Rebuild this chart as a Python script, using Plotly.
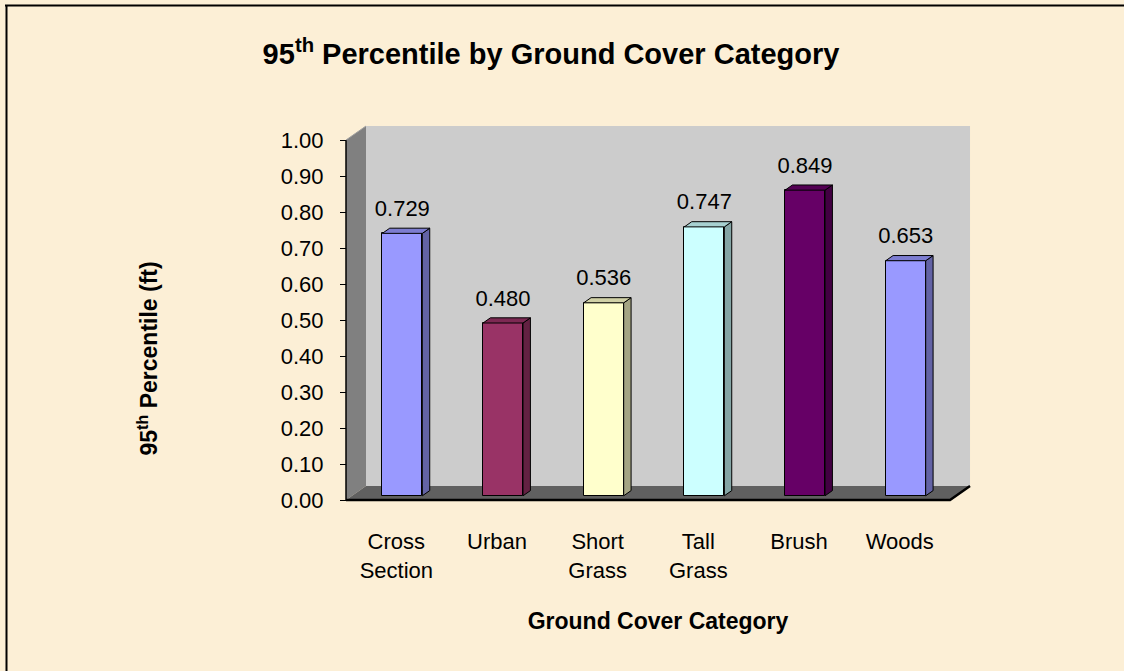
import plotly.graph_objects as go

# ---------------- data ----------------
categories = ["Cross<br>Section", "Urban", "Short<br>Grass", "Tall<br>Grass", "Brush", "Woods"]
values = [0.729, 0.480, 0.536, 0.747, 0.849, 0.653]
value_labels = ["0.729", "0.480", "0.536", "0.747", "0.849", "0.653"]
front_colors = ["#9999FF", "#993366", "#FFFFCC", "#CCFFFF", "#660066", "#9999FF"]
y_ticks = [0.0, 0.1, 0.2, 0.3, 0.4, 0.5, 0.6, 0.7, 0.8, 0.9, 1.0]

# ---------------- geometry (pixel layout) ----------------
W, H = 1124, 671
L, R, T, B = 342, 974, 122, 504        # plot area in px
X0PX, Y0PX = 346, 500                   # front axis origin (x=-0.5, y=0)
UX, UY = 100.67, 360.0                  # px per data unit
DX, DY = 20 / UX, 14 / UY               # wall depth in data units
F0, F1 = 0.30, 0.67                     # bar depth fractions
BAR_W = 40 / UX
LABEL_GAP = 23 / UY

xr = [-0.5 - (X0PX - L) / UX, -0.5 + (R - X0PX) / UX]
yr = [-(B - Y0PX) / UY, (Y0PX - T) / UY]


def shade(hex_color, k):
    h = hex_color.lstrip("#")
    r, g, b = (int(h[i:i + 2], 16) for i in (0, 2, 4))
    return "rgb({},{},{})".format(int(r * k), int(g * k), int(b * k))


def px_to_paper_x(px):
    return (px - L) / (R - L)


def px_to_paper_y(py):
    return (B - py) / (B - T)


fig = go.Figure()

n = len(categories)
xs = [i + F0 * DX for i in range(n)]
yb = F0 * DY
dbx, dby = (F1 - F0) * DX, (F1 - F0) * DY

# front faces
fig.add_trace(go.Bar(
    x=xs, y=values, base=[yb] * n, width=BAR_W,
    marker=dict(color=front_colors, line=dict(color="black", width=1)),
    hoverinfo="skip", showlegend=False,
))

# side and top faces
for i in range(n):
    xl = xs[i] - BAR_W / 2
    xrr = xs[i] + BAR_W / 2
    yt = yb + values[i]
    fig.add_trace(go.Scatter(
        x=[xrr, xrr, xrr + dbx, xrr + dbx, xrr],
        y=[yb, yt, yt + dby, yb + dby, yb],
        mode="lines", fill="toself", fillcolor=shade(front_colors[i], 0.65),
        line=dict(color="black", width=1), hoverinfo="skip", showlegend=False,
    ))
    fig.add_trace(go.Scatter(
        x=[xl, xrr, xrr + dbx, xl + dbx, xl],
        y=[yt, yt, yt + dby, yt + dby, yt],
        mode="lines", fill="toself", fillcolor=shade(front_colors[i], 0.82),
        line=dict(color="black", width=1), hoverinfo="skip", showlegend=False,
    ))

# data labels
fig.add_trace(go.Scatter(
    x=xs, y=[yb + v + LABEL_GAP for v in values], mode="text",
    text=value_labels, textposition="middle center",
    textfont=dict(family="Arial, Liberation Sans", size=22, color="black"),
    hoverinfo="skip", showlegend=False, cliponaxis=False,
))

xa, xb = -0.5, n - 0.5
shapes = [
    # back wall
    dict(type="rect", xref="x", yref="y", x0=xa + DX, x1=xb + DX, y0=DY, y1=1 + DY,
         fillcolor="#CCCCCC", line=dict(width=0), layer="below"),
    # side wall
    dict(type="path", xref="x", yref="y",
         path=f"M{xa},0 L{xa},1 L{xa + DX},{1 + DY} L{xa + DX},{DY} Z",
         fillcolor="#808080", line=dict(width=0), layer="below"),
    # floor
    dict(type="path", xref="x", yref="y",
         path=f"M{xa},0 L{xb},0 L{xb + DX},{DY} L{xa + DX},{DY} Z",
         fillcolor="#606060", line=dict(width=0), layer="below"),
    # floor edges
    dict(type="path", xref="x", yref="y",
         path=f"M{xa},0 L{xb},0 L{xb + DX},{DY}",
         line=dict(color="black", width=2.5), layer="above"),
    # side wall front edge (value axis line)
    dict(type="line", xref="x", yref="y", x0=xa, x1=xa, y0=0, y1=1,
         line=dict(color="black", width=1.5), layer="above"),
    # side wall top edge
    dict(type="line", xref="x", yref="y", x0=xa, x1=xa + DX, y0=1, y1=1 + DY,
         line=dict(color="#A0A0A0", width=1), layer="above"),
    # outer frame (top and left)
    dict(type="line", xref="paper", yref="paper",
         x0=px_to_paper_x(5), x1=px_to_paper_x(W), y0=px_to_paper_y(5.5), y1=px_to_paper_y(5.5),
         line=dict(color="black", width=2)),
    dict(type="line", xref="paper", yref="paper",
         x0=px_to_paper_x(6.5), x1=px_to_paper_x(6.5), y0=px_to_paper_y(5), y1=px_to_paper_y(H),
         line=dict(color="black", width=2)),
]

font_family = "Arial, Liberation Sans, sans-serif"

annotations = [
    dict(text="<b>95<sup>th</sup> Percentile (ft)</b>", textangle=-90,
         xref="paper", yref="paper", x=px_to_paper_x(147.5), y=px_to_paper_y(359),
         xanchor="center", yanchor="middle", showarrow=False,
         font=dict(family=font_family, size=23, color="black")),
]

fig.update_layout(
    width=W, height=H,
    margin=dict(l=L, r=W - R, t=T, b=H - B, autoexpand=False),
    paper_bgcolor="#FCEFD6",
    plot_bgcolor="rgba(0,0,0,0)",
    font=dict(family=font_family, size=22, color="black"),
    title=dict(
        text="<b>95<sup>th</sup> Percentile by Ground Cover Category</b>",
        x=551 / W, xref="container", xanchor="center",
        y=1 - 54 / H, yanchor="middle",
        font=dict(family=font_family, size=29, color="black"),
    ),
    showlegend=False,
    bargap=0,
    shapes=shapes,
    annotations=annotations,
    xaxis=dict(
        range=xr, tickmode="array", tickvals=list(range(n)), ticktext=categories,
        showgrid=False, zeroline=False, showline=False, ticks="",
        ticklabelstandoff=22,
        tickfont=dict(size=22),
        title=dict(text="<b>Ground Cover Category</b>", font=dict(size=23), standoff=31),
        fixedrange=True,
    ),
    yaxis=dict(
        range=yr, tickmode="array", tickvals=y_ticks, tickformat=".2f",
        anchor="free", position=px_to_paper_x(X0PX),
        showgrid=False, zeroline=False, showline=False,
        ticks="outside", ticklen=6, tickwidth=1, tickcolor="black",
        ticklabelstandoff=12,
        tickfont=dict(size=22),
        fixedrange=True,
    ),
)

fig.write_html(
    "out.html",
    config={"displayModeBar": False},
    post_script="document.body.style.margin='0';document.body.style.overflow='hidden';",
)
